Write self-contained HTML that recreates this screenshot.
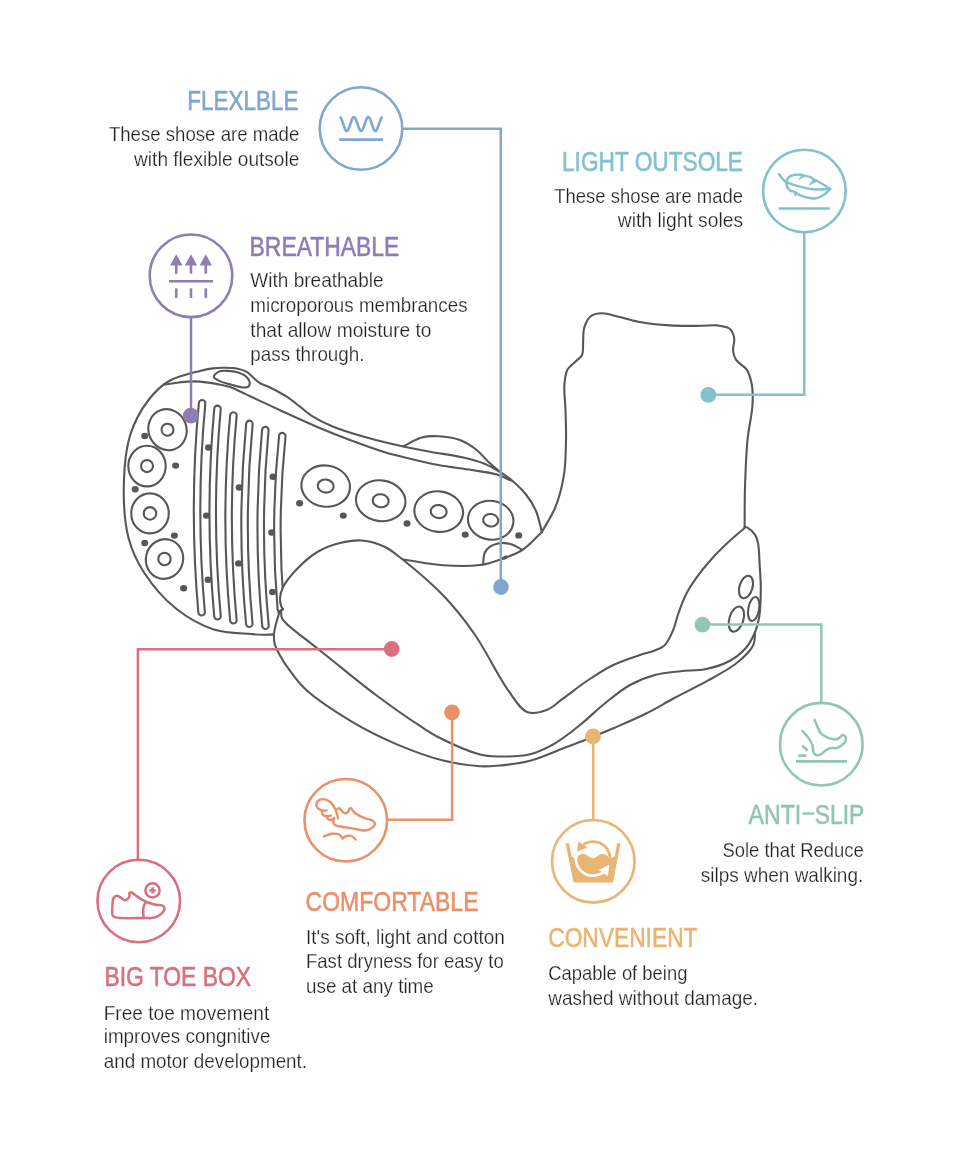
<!DOCTYPE html>
<html><head><meta charset="utf-8"><style>
html,body{margin:0;padding:0;background:#fff;width:960px;height:1158px;overflow:hidden}
svg{display:block;will-change:transform}
text{font-family:"Liberation Sans",sans-serif}
</style></head><body>
<svg width="960" height="1158" viewBox="0 0 960 1158">
<rect width="960" height="1158" fill="#fff"/>
<g id="shoe">
<path d="M202.10,403.20 Q192.25,507.75 201.60,612.30" fill="none" stroke="#575757" stroke-width="8.6" stroke-linecap="round"/><path d="M202.10,403.20 Q192.25,507.75 201.60,612.30" fill="none" stroke="#fff" stroke-width="4.4" stroke-linecap="round"/><path d="M217.50,408.90 Q207.90,512.60 217.50,616.30" fill="none" stroke="#575757" stroke-width="8.6" stroke-linecap="round"/><path d="M217.50,408.90 Q207.90,512.60 217.50,616.30" fill="none" stroke="#fff" stroke-width="4.4" stroke-linecap="round"/><path d="M233.40,415.45 Q223.80,517.88 233.40,620.30" fill="none" stroke="#575757" stroke-width="8.6" stroke-linecap="round"/><path d="M233.40,415.45 Q223.80,517.88 233.40,620.30" fill="none" stroke="#fff" stroke-width="4.4" stroke-linecap="round"/><path d="M249.40,423.90 Q239.75,523.85 249.30,623.80" fill="none" stroke="#575757" stroke-width="8.6" stroke-linecap="round"/><path d="M249.40,423.90 Q239.75,523.85 249.30,623.80" fill="none" stroke="#fff" stroke-width="4.4" stroke-linecap="round"/><path d="M265.30,430.10 Q256.01,527.95 265.50,625.80" fill="none" stroke="#575757" stroke-width="8.6" stroke-linecap="round"/><path d="M265.30,430.10 Q256.01,527.95 265.50,625.80" fill="none" stroke="#fff" stroke-width="4.4" stroke-linecap="round"/><path d="M282.30,436.10 Q273.26,522.45 280.80,608.80" fill="none" stroke="#575757" stroke-width="8.6" stroke-linecap="round"/><path d="M282.30,436.10 Q273.26,522.45 280.80,608.80" fill="none" stroke="#fff" stroke-width="4.4" stroke-linecap="round"/>
<path d="M273.90,634.40 C270.03,634.53 266.12,634.87 262.30,634.80 C258.57,634.73 256.02,634.46 251.25,634.00 C242.45,633.14 225.88,633.32 213.75,629.40 C200.83,625.22 187.57,617.79 176.25,608.75 C164.24,599.16 152.33,585.23 144.20,572.70 C137.00,561.60 132.03,551.19 128.60,538.20 C124.57,522.98 123.51,503.66 123.80,486.40 C124.10,469.09 125.63,449.67 130.40,434.50 C134.52,421.41 141.39,409.29 148.50,400.00 C154.49,392.18 160.67,386.02 168.75,381.25 C177.58,376.04 191.88,373.05 200.00,370.90 C205.05,369.56 208.31,368.92 212.50,368.40 C216.65,367.89 220.84,367.74 225.00,367.80 C229.17,367.86 233.67,367.98 237.50,368.75 C240.90,369.44 244.23,370.34 246.90,371.90 C249.35,373.33 250.95,375.66 253.10,377.50 C255.31,379.40 257.37,381.49 260.00,383.10 C262.92,384.88 266.29,385.67 270.00,387.50 C274.90,389.92 281.56,393.37 286.70,396.70 C291.50,399.81 295.72,403.43 300.00,406.70 C304.04,409.79 307.04,412.85 311.70,415.80 C317.66,419.57 325.17,423.36 333.30,426.70 C343.09,430.72 355.25,434.25 366.70,437.50 C378.56,440.87 392.03,444.02 403.30,446.50 C412.87,448.61 420.60,449.97 430.00,451.70 C440.48,453.63 453.66,455.27 463.30,457.50 C470.87,459.25 477.05,460.79 483.30,463.30 C489.24,465.68 494.99,468.94 500.00,472.00 C504.43,474.71 507.99,477.12 512.00,480.50 C516.65,484.43 521.98,489.38 526.00,494.50 C529.97,499.56 533.39,504.97 536.00,511.00 C538.78,517.41 539.93,525.00 541.90,532.00" fill="none" stroke="#575757" stroke-width="2.1" stroke-linecap="round" stroke-linejoin="round" />
<path d="M541.90,532.00 C535.43,537.97 529.48,545.35 522.50,549.90 C516.04,554.11 508.88,556.38 501.80,558.90 C494.71,561.42 488.30,563.83 480.00,565.00 C469.44,566.49 455.86,566.16 443.30,565.30 C429.91,564.39 415.77,561.30 402.00,559.30" fill="none" stroke="#575757" stroke-width="2.1" stroke-linecap="round" stroke-linejoin="round" />
<path d="M164.00,384.50 C171.83,383.53 180.88,382.01 187.50,381.60 C192.31,381.30 195.43,381.26 200.00,381.60 C205.63,382.02 213.15,383.29 218.75,384.40 C223.36,385.31 227.01,386.01 231.25,387.50 C235.94,389.15 239.69,391.36 245.60,394.10 C255.19,398.55 271.09,406.11 283.30,411.70 C294.75,416.94 305.52,421.96 316.70,426.70 C327.76,431.39 338.86,435.82 350.00,440.00 C361.06,444.15 373.33,448.62 383.30,451.70 C391.25,454.16 396.97,455.52 405.00,457.50 C414.89,459.94 427.15,462.91 438.30,465.00 C449.39,467.08 461.35,468.28 471.70,470.00 C480.73,471.50 489.90,472.49 497.00,474.60 C502.46,476.22 506.33,478.53 511.00,480.50" fill="none" stroke="#575757" stroke-width="2.1" stroke-linecap="round" stroke-linejoin="round" />
<path d="M403.30,446.30 C409.43,443.37 415.57,439.14 421.70,437.50 C427.24,436.01 432.42,435.92 438.30,436.20 C445.07,436.52 453.44,437.56 460.00,440.00 C466.16,442.30 471.84,446.19 476.70,450.00 C481.17,453.50 484.35,458.03 488.30,461.70 C492.12,465.25 496.10,468.37 500.00,471.70" fill="none" stroke="#575757" stroke-width="2.1" stroke-linecap="round" stroke-linejoin="round" />
<path d="M483.10,563.40 C483.60,559.93 483.30,555.90 484.60,553.00 C485.76,550.41 487.78,548.16 490.00,546.60 C492.24,545.02 495.49,544.16 498.00,543.60 C500.11,543.13 501.86,543.00 504.00,543.10 C506.48,543.21 509.23,543.56 512.00,544.50 C515.32,545.62 518.93,548.10 522.40,549.90" fill="none" stroke="#575757" stroke-width="2.1" stroke-linecap="round" stroke-linejoin="round" />
<path d="M213.75,376.90 C213.61,375.36 216.58,372.64 218.75,371.60 C221.22,370.43 224.98,370.80 228.10,370.90 C231.23,371.00 234.60,371.36 237.50,372.20 C240.20,372.98 242.98,374.01 245.00,375.60 C246.88,377.08 248.87,379.31 249.40,381.25 C249.84,382.88 249.68,385.21 248.75,386.25 C247.81,387.30 245.80,387.47 243.75,387.50 C240.53,387.54 235.39,385.84 231.25,384.70 C227.06,383.55 221.88,382.22 218.75,380.60 C216.60,379.49 213.88,378.32 213.75,376.90Z" fill="none" stroke="#575757" stroke-width="2.1" stroke-linecap="round" stroke-linejoin="round" />
<path d="M541.90,532.00 C546.50,523.47 552.07,515.63 555.70,506.40 C559.56,496.59 562.28,485.51 564.00,474.60 C565.77,463.40 565.77,451.13 566.00,440.00 C566.21,429.65 565.79,419.54 565.50,410.00 C565.24,401.29 563.83,392.30 564.40,385.00 C564.85,379.22 565.31,373.71 567.50,369.60 C569.40,366.05 573.22,363.83 575.80,361.25 C578.04,359.01 580.83,357.73 582.10,355.00 C583.61,351.75 582.76,346.83 583.10,342.50 C583.46,337.82 582.89,332.34 584.20,327.90 C585.43,323.72 587.35,318.93 590.40,316.50 C593.33,314.17 597.76,313.44 601.90,313.30 C606.69,313.13 611.94,315.24 617.50,316.50 C623.95,317.97 630.61,320.29 638.30,321.70 C647.62,323.41 659.16,324.72 669.60,325.40 C679.99,326.08 692.01,325.85 700.80,325.80 C707.23,325.76 712.38,324.74 717.50,325.40 C722.02,325.98 727.20,326.58 730.00,329.00 C732.48,331.14 733.62,334.89 734.20,338.30 C734.84,342.08 732.65,346.97 733.10,350.80 C733.50,354.20 734.34,357.30 736.25,360.20 C738.52,363.66 744.12,365.68 746.70,369.60 C749.48,373.82 750.90,379.45 751.90,385.00 C753.01,391.16 752.92,397.43 752.50,405.00 C751.94,415.07 748.73,427.41 747.50,440.00 C746.08,454.60 745.48,472.29 745.00,487.50 C744.56,501.53 744.73,514.50 744.60,528.00" fill="none" stroke="#575757" stroke-width="2.1" stroke-linecap="round" stroke-linejoin="round" />
<path d="M283.00,609.30 C282.43,608.30 281.76,607.59 281.30,606.30 C280.61,604.35 279.86,601.32 280.00,598.50 C280.16,595.09 281.08,591.24 283.00,587.30 C285.62,581.92 290.77,575.54 296.00,570.00 C301.94,563.71 309.69,556.56 317.30,552.00 C324.42,547.74 332.36,544.91 340.00,543.00 C347.27,541.18 354.64,539.90 362.00,540.50 C369.64,541.12 378.16,543.74 385.00,547.00 C391.38,550.05 395.27,553.67 402.00,559.00 C412.95,567.68 430.98,582.72 443.30,595.60 C454.96,607.79 464.27,619.53 474.40,634.00 C486.17,650.81 498.51,677.21 508.75,691.20 C515.33,700.20 520.01,709.14 527.00,711.90 C532.92,714.24 540.68,712.23 546.70,710.00 C552.80,707.74 557.22,702.66 563.30,698.30 C570.81,692.91 579.84,685.62 588.30,680.00 C596.51,674.55 604.63,669.18 613.30,665.00 C621.87,660.87 632.57,657.52 640.00,655.00 C645.23,653.23 649.30,652.56 653.50,650.90 C657.40,649.36 661.31,648.42 664.40,645.50 C668.14,641.97 670.85,635.42 673.20,630.00 C675.55,624.58 676.43,618.78 678.50,613.00 C680.72,606.80 683.13,600.00 686.20,594.00 C689.21,588.11 692.70,582.87 696.70,577.30 C701.07,571.21 706.30,564.88 711.60,559.00 C716.98,553.04 723.05,547.13 728.75,541.80 C734.05,536.85 739.32,532.60 744.60,528.00 L744.60,527.00 C745.40,527.13 746.05,526.93 747.00,527.40 C749.02,528.39 753.25,532.11 755.10,534.90 C756.72,537.35 757.27,539.48 758.00,542.90 C759.20,548.51 759.23,558.16 759.70,565.80 C760.17,573.44 760.83,580.70 760.80,588.75 C760.76,597.68 760.49,609.12 759.20,617.00 C758.25,622.84 756.47,627.00 755.10,632.00 L755.10,632.00 C754.63,636.07 754.99,640.68 753.70,644.20 C752.55,647.33 750.73,649.48 748.30,652.30 C744.98,656.15 740.32,660.42 734.80,664.50 C727.53,669.88 717.32,675.33 707.70,680.70 C697.14,686.60 684.52,692.61 673.90,698.30 C664.31,703.44 656.34,708.49 646.70,713.30 C636.24,718.52 624.01,723.68 613.30,728.30 C603.51,732.52 593.83,736.49 585.00,740.00 C577.31,743.06 571.31,745.26 563.30,748.30 C553.39,752.06 541.20,757.89 530.00,760.80 C519.20,763.60 506.50,764.85 497.30,765.70 C490.64,766.31 486.82,766.71 480.00,766.30 C470.02,765.70 456.06,763.79 443.30,760.60 C428.72,756.95 412.56,750.98 397.50,744.60 C382.02,738.04 366.66,730.51 351.70,721.60 C336.07,712.29 316.87,699.77 305.80,689.60 C298.21,682.63 293.63,675.74 289.00,669.40 C285.22,664.24 282.09,659.26 279.60,654.70 C277.58,651.01 275.72,647.84 274.80,644.30 C273.92,640.94 273.79,637.43 274.00,634.00 C274.21,630.53 275.22,627.18 276.10,623.60 C277.06,619.70 278.43,615.53 279.60,611.50Z" fill="#fff" stroke="none"/>
<path d="M283.00,609.30 C282.43,608.30 281.76,607.59 281.30,606.30 C280.61,604.35 279.86,601.32 280.00,598.50 C280.16,595.09 281.08,591.24 283.00,587.30 C285.62,581.92 290.77,575.54 296.00,570.00 C301.94,563.71 309.69,556.56 317.30,552.00 C324.42,547.74 332.36,544.91 340.00,543.00 C347.27,541.18 354.64,539.90 362.00,540.50 C369.64,541.12 378.16,543.74 385.00,547.00 C391.38,550.05 395.27,553.67 402.00,559.00 C412.95,567.68 430.98,582.72 443.30,595.60 C454.96,607.79 464.27,619.53 474.40,634.00 C486.17,650.81 498.51,677.21 508.75,691.20 C515.33,700.20 520.01,709.14 527.00,711.90 C532.92,714.24 540.68,712.23 546.70,710.00 C552.80,707.74 557.22,702.66 563.30,698.30 C570.81,692.91 579.84,685.62 588.30,680.00 C596.51,674.55 604.63,669.18 613.30,665.00 C621.87,660.87 632.57,657.52 640.00,655.00 C645.23,653.23 649.30,652.56 653.50,650.90 C657.40,649.36 661.31,648.42 664.40,645.50 C668.14,641.97 670.85,635.42 673.20,630.00 C675.55,624.58 676.43,618.78 678.50,613.00 C680.72,606.80 683.13,600.00 686.20,594.00 C689.21,588.11 692.70,582.87 696.70,577.30 C701.07,571.21 706.30,564.88 711.60,559.00 C716.98,553.04 723.05,547.13 728.75,541.80 C734.05,536.85 739.32,532.60 744.60,528.00" fill="none" stroke="#575757" stroke-width="2.1" stroke-linecap="round" stroke-linejoin="round" />
<path d="M280.90,610.60 C281.30,613.20 280.99,616.03 282.10,618.40 C283.30,620.96 285.51,622.74 288.20,625.30 C292.38,629.27 299.30,634.18 305.50,639.10 C312.67,644.80 319.70,650.32 328.75,657.50 C341.47,667.60 359.15,682.43 374.60,694.00 C389.70,705.31 408.21,718.26 420.40,726.20 C428.19,731.28 432.14,734.04 440.00,738.00 C450.82,743.45 469.26,751.72 480.00,754.50 C486.81,756.26 490.62,756.35 497.30,756.50 C506.47,756.71 520.02,756.65 530.00,754.20 C539.10,751.97 546.92,747.94 555.00,743.30 C563.62,738.35 571.80,731.54 580.00,725.00 C588.48,718.24 596.52,710.06 605.00,703.30 C613.20,696.76 621.35,689.79 630.00,685.00 C638.06,680.53 646.48,677.30 655.00,675.00 C663.35,672.74 672.15,672.17 680.60,671.20 C688.82,670.25 697.08,670.78 705.00,669.20 C712.87,667.63 721.13,665.42 728.00,661.80 C734.60,658.33 740.99,653.43 745.60,648.20 C749.83,643.39 752.80,637.45 755.10,632.00 C757.19,627.04 758.25,622.84 759.20,617.00 C760.49,609.12 760.76,597.68 760.80,588.75 C760.83,580.70 760.17,573.44 759.70,565.80 C759.23,558.16 759.20,548.51 758.00,542.90 C757.27,539.48 756.72,537.35 755.10,534.90 C753.25,532.11 749.02,528.39 747.00,527.40 C746.05,526.93 745.40,527.13 744.60,527.00" fill="none" stroke="#575757" stroke-width="2.1" stroke-linecap="round" stroke-linejoin="round" />
<path d="M279.60,611.50 C278.43,615.53 277.06,619.70 276.10,623.60 C275.22,627.18 274.21,630.53 274.00,634.00 C273.79,637.43 273.92,640.94 274.80,644.30 C275.72,647.84 277.58,651.01 279.60,654.70 C282.09,659.26 285.22,664.24 289.00,669.40 C293.63,675.74 298.21,682.63 305.80,689.60 C316.87,699.77 336.07,712.29 351.70,721.60 C366.66,730.51 382.02,738.04 397.50,744.60 C412.56,750.98 428.72,756.95 443.30,760.60 C456.06,763.79 470.02,765.70 480.00,766.30 C486.82,766.71 490.64,766.31 497.30,765.70 C506.50,764.85 519.20,763.60 530.00,760.80 C541.20,757.89 553.39,752.06 563.30,748.30 C571.31,745.26 577.31,743.06 585.00,740.00 C593.83,736.49 603.51,732.52 613.30,728.30 C624.01,723.68 636.24,718.52 646.70,713.30 C656.34,708.49 664.31,703.44 673.90,698.30 C684.52,692.61 697.14,686.60 707.70,680.70 C717.32,675.33 727.53,669.88 734.80,664.50 C740.32,660.42 744.98,656.15 748.30,652.30 C750.73,649.48 752.55,647.33 753.70,644.20 C754.99,640.68 754.63,636.07 755.10,632.00" fill="none" stroke="#575757" stroke-width="2.1" stroke-linecap="round" stroke-linejoin="round" />
<path d="M283.00,609.30 C282.13,609.73 281.20,610.09 280.40,610.60 C279.63,611.09 279.00,611.73 278.30,612.30" fill="none" stroke="#575757" stroke-width="2.1" stroke-linecap="round" stroke-linejoin="round" />
<path d="M778.80,174.10 C781.07,176.60 782.61,179.60 785.60,181.60 C789.25,184.04 795.12,185.40 799.80,186.70 C804.18,187.92 808.13,188.88 812.80,189.30 C818.15,189.78 824.40,189.10 830.20,189.00" fill="none" stroke="#82c2ce" stroke-width="2.4" stroke-linecap="round" stroke-linejoin="round" />
<path d="M786.00,182.00 C786.97,180.33 787.45,178.19 788.90,177.00 C790.47,175.71 793.08,175.17 795.30,174.80 C797.57,174.42 800.03,174.80 802.40,174.80" fill="none" stroke="#82c2ce" stroke-width="2.4" stroke-linecap="round" stroke-linejoin="round" />
<path d="M804.40,175.75 C806.33,176.17 808.45,176.26 810.20,177.00 C811.87,177.71 813.20,179.00 814.70,180.00" fill="none" stroke="#82c2ce" stroke-width="2.4" stroke-linecap="round" stroke-linejoin="round" />
<path d="M816.00,180.30 C818.17,181.57 820.26,182.73 822.50,184.10 C824.97,185.61 827.63,187.37 830.20,189.00" fill="none" stroke="#82c2ce" stroke-width="2.4" stroke-linecap="round" stroke-linejoin="round" />
<path d="M830.20,189.00 C828.27,190.83 826.66,192.97 824.40,194.50 C821.97,196.15 818.87,197.89 816.00,198.40 C813.26,198.89 810.32,198.26 807.60,197.70 C804.92,197.15 801.93,196.06 799.80,195.10 C798.20,194.38 797.13,193.57 795.80,192.80" fill="none" stroke="#82c2ce" stroke-width="2.4" stroke-linecap="round" stroke-linejoin="round" />
<path d="M793.60,191.60 C792.67,191.37 791.71,191.42 790.80,190.90 C789.62,190.22 788.20,188.82 787.40,187.40 C786.55,185.89 786.47,183.80 786.00,182.00" fill="none" stroke="#82c2ce" stroke-width="2.4" stroke-linecap="round" stroke-linejoin="round" />
<path d="M814.50,719.90 C815.63,722.47 816.78,725.24 817.90,727.60 C818.88,729.66 819.54,731.83 820.80,733.30 C821.91,734.60 823.20,735.32 824.80,736.20 C826.83,737.31 829.78,738.76 832.20,739.10 C834.37,739.41 836.81,739.25 838.60,738.50 C840.22,737.82 841.33,735.16 842.60,735.10 C843.68,735.05 845.22,736.28 845.70,737.30 C846.20,738.36 846.00,740.10 845.40,741.40 C844.65,743.04 842.43,744.84 840.80,746.00 C839.37,747.02 837.94,747.85 836.30,748.20 C834.53,748.58 832.33,747.61 830.50,748.00 C828.69,748.39 826.94,749.48 825.40,750.50 C823.91,751.49 822.93,753.23 821.40,754.00 C819.87,754.77 817.58,755.57 816.20,755.10 C814.94,754.67 813.93,753.12 813.30,751.70 C812.55,750.01 813.13,747.45 812.50,745.40 C811.84,743.24 810.72,741.25 809.30,739.10 C807.56,736.47 804.77,733.70 802.50,731.00" fill="none" stroke="#91c6b1" stroke-width="2.5" stroke-linecap="round" stroke-linejoin="round" />
<path d="M112.70,915.50 C111.69,913.67 112.23,909.11 112.40,906.10 C112.56,903.29 112.53,899.73 113.60,898.00 C114.33,896.81 115.62,895.92 116.75,895.80 C117.91,895.68 119.26,896.72 120.50,897.40 C121.87,898.15 123.27,900.09 124.60,900.20 C125.76,900.29 127.16,899.38 128.00,898.60 C128.78,897.88 129.42,896.74 129.60,895.80 C129.76,894.97 128.93,893.87 129.25,893.30 C129.56,892.75 130.58,892.30 131.40,892.40 C132.70,892.55 134.40,894.64 136.10,895.80 C138.03,897.13 140.26,898.73 142.40,899.90 C144.43,901.01 146.36,901.90 148.60,902.70 C151.10,903.59 154.26,904.44 156.75,904.90 C158.79,905.28 161.06,904.72 162.40,905.50 C163.50,906.14 164.50,907.51 164.60,908.60 C164.70,909.68 163.85,910.91 163.00,912.00 C161.88,913.43 159.87,915.10 158.00,916.10 C156.12,917.10 153.86,917.69 151.75,918.00 C149.69,918.31 148.36,918.03 145.50,918.00 C139.23,917.94 120.09,918.86 115.50,917.40 C113.96,916.91 113.31,916.60 112.70,915.50Z" fill="none" stroke="#d8707d" stroke-width="2.5" stroke-linecap="round" stroke-linejoin="round" />
<path d="M145.50,902.40 C144.87,903.85 143.97,905.17 143.60,906.75 C143.19,908.48 143.30,910.52 143.30,912.40 C143.30,914.27 143.50,916.13 143.60,918.00" fill="none" stroke="#d8707d" stroke-width="2.5" stroke-linecap="round" stroke-linejoin="round" />
<path d="M338.10,818.10 C337.57,816.23 337.09,814.23 336.50,812.50 C335.98,810.96 335.62,809.71 334.80,808.20 C333.75,806.26 332.33,803.51 330.40,802.00 C328.44,800.46 325.38,799.05 323.10,799.10 C321.05,799.14 318.29,800.29 317.30,801.70 C316.41,802.96 316.26,805.38 316.90,806.80 C317.59,808.33 320.01,809.84 321.70,810.40 C323.20,810.90 324.83,810.40 326.40,810.40" fill="none" stroke="#e8926a" stroke-width="2.4" stroke-linecap="round" stroke-linejoin="round" />
<path d="M321.70,811.00 C322.07,812.27 321.98,813.92 322.80,814.80 C323.65,815.72 325.45,816.19 326.80,816.30 C328.12,816.41 329.47,815.77 330.80,815.50" fill="none" stroke="#e8926a" stroke-width="2.4" stroke-linecap="round" stroke-linejoin="round" />
<path d="M326.80,816.60 C327.27,817.47 327.44,818.64 328.20,819.20 C329.06,819.83 330.87,820.16 331.90,819.90 C332.79,819.67 333.37,818.70 334.10,818.10" fill="none" stroke="#e8926a" stroke-width="2.4" stroke-linecap="round" stroke-linejoin="round" />
<path d="M334.10,818.10 C333.83,819.43 333.13,820.90 333.30,822.10 C333.45,823.17 333.91,824.29 334.80,825.00 C336.01,825.97 338.26,826.00 340.60,826.50 C344.10,827.24 349.54,828.01 353.80,828.70 C357.79,829.34 362.12,830.86 365.40,830.50 C367.95,830.22 370.38,829.20 372.00,827.90 C373.39,826.79 374.98,824.91 374.90,823.60 C374.82,822.39 373.24,821.09 372.00,820.30 C370.63,819.43 368.74,819.43 366.90,818.80 C364.67,818.03 361.83,817.09 359.60,815.90 C357.49,814.77 355.34,813.32 353.80,811.90 C352.53,810.73 351.70,808.52 350.80,808.20 C350.30,808.03 349.74,808.17 349.40,808.50 C348.92,808.96 349.28,810.45 348.70,811.20 C347.99,812.13 346.19,813.40 345.00,813.30 C343.76,813.20 342.43,811.33 341.40,810.40 C340.55,809.64 339.98,808.33 339.20,808.20 C338.50,808.09 337.73,808.93 337.00,809.30" fill="none" stroke="#e8926a" stroke-width="2.4" stroke-linecap="round" stroke-linejoin="round" />
<path d="M323.90,836.30 C326.57,835.47 329.27,834.07 331.90,833.80 C334.36,833.54 337.37,833.54 339.20,834.50 C340.72,835.30 341.40,837.10 342.50,838.40" fill="none" stroke="#e8926a" stroke-width="2.4" stroke-linecap="round" stroke-linejoin="round" />
<path d="M342.50,838.40 C343.83,837.60 345.02,836.41 346.50,836.00 C348.04,835.57 350.10,835.42 351.60,836.00 C353.14,836.59 354.27,838.40 355.60,839.60" fill="none" stroke="#e8926a" stroke-width="2.4" stroke-linecap="round" stroke-linejoin="round" />
<ellipse cx="167.5" cy="429.7" rx="19" ry="20.7" transform="rotate(-20 167.5 429.7)" fill="none" stroke="#575757" stroke-width="2.1"/><ellipse cx="167.5" cy="429.7" rx="6" ry="6" transform="rotate(-20 167.5 429.7)" fill="none" stroke="#575757" stroke-width="2.1"/><ellipse cx="147" cy="466.1" rx="18.7" ry="20.3" transform="rotate(0 147 466.1)" fill="none" stroke="#575757" stroke-width="2.1"/><ellipse cx="147" cy="466.1" rx="6" ry="6" transform="rotate(0 147 466.1)" fill="none" stroke="#575757" stroke-width="2.1"/><ellipse cx="150" cy="513.4" rx="18.75" ry="20" transform="rotate(0 150 513.4)" fill="none" stroke="#575757" stroke-width="2.1"/><ellipse cx="150" cy="513.4" rx="6.3" ry="6.3" transform="rotate(0 150 513.4)" fill="none" stroke="#575757" stroke-width="2.1"/><ellipse cx="164.5" cy="559" rx="18.6" ry="19.9" transform="rotate(15 164.5 559)" fill="none" stroke="#575757" stroke-width="2.1"/><ellipse cx="164.5" cy="559" rx="6.2" ry="6.2" transform="rotate(15 164.5 559)" fill="none" stroke="#575757" stroke-width="2.1"/><ellipse cx="325.7" cy="486.1" rx="24.4" ry="20.6" transform="rotate(8 325.7 486.1)" fill="none" stroke="#575757" stroke-width="2.1"/><ellipse cx="325.7" cy="486.1" rx="8" ry="6.5" transform="rotate(8 325.7 486.1)" fill="none" stroke="#575757" stroke-width="2.1"/><ellipse cx="380.7" cy="500.75" rx="24.8" ry="20.3" transform="rotate(8 380.7 500.75)" fill="none" stroke="#575757" stroke-width="2.1"/><ellipse cx="380.7" cy="500.75" rx="8" ry="6.5" transform="rotate(8 380.7 500.75)" fill="none" stroke="#575757" stroke-width="2.1"/><ellipse cx="438.7" cy="511.6" rx="24.4" ry="20.2" transform="rotate(8 438.7 511.6)" fill="none" stroke="#575757" stroke-width="2.1"/><ellipse cx="438.7" cy="511.6" rx="8" ry="6.5" transform="rotate(8 438.7 511.6)" fill="none" stroke="#575757" stroke-width="2.1"/><ellipse cx="490.7" cy="520.2" rx="22.8" ry="19.4" transform="rotate(8 490.7 520.2)" fill="none" stroke="#575757" stroke-width="2.1"/><ellipse cx="490.7" cy="520.2" rx="7.6" ry="6.2" transform="rotate(8 490.7 520.2)" fill="none" stroke="#575757" stroke-width="2.1"/><ellipse cx="746" cy="587" rx="6.5" ry="11.6" transform="rotate(17 746 587)" fill="none" stroke="#575757" stroke-width="2.1"/><ellipse cx="753.7" cy="609" rx="5.4" ry="12.2" transform="rotate(10 753.7 609)" fill="none" stroke="#575757" stroke-width="2.1"/><ellipse cx="736.4" cy="619.1" rx="7" ry="13" transform="rotate(17 736.4 619.1)" fill="none" stroke="#575757" stroke-width="2.1"/>
<ellipse cx="505" cy="557.6" rx="3.4" ry="1.7" transform="rotate(-22 505 557.6)" fill="#575757"/><ellipse cx="144.7" cy="436" rx="3.5" ry="3.2" fill="#575757"/><ellipse cx="175.6" cy="465.6" rx="3.5" ry="3.2" fill="#575757"/><ellipse cx="135.2" cy="489.3" rx="3.5" ry="3.2" fill="#575757"/><ellipse cx="208.5" cy="447.5" rx="3.5" ry="3.2" fill="#575757"/><ellipse cx="206.5" cy="515.6" rx="3.5" ry="3.2" fill="#575757"/><ellipse cx="239.2" cy="487.5" rx="3.5" ry="3.2" fill="#575757"/><ellipse cx="273" cy="476.7" rx="3.5" ry="3.2" fill="#575757"/><ellipse cx="271.7" cy="532.5" rx="3.5" ry="3.2" fill="#575757"/><ellipse cx="174.4" cy="535.6" rx="3.5" ry="3.2" fill="#575757"/><ellipse cx="144.7" cy="543" rx="3.5" ry="3.2" fill="#575757"/><ellipse cx="183.6" cy="588.3" rx="3.5" ry="3.2" fill="#575757"/><ellipse cx="208.1" cy="579.7" rx="3.5" ry="3.2" fill="#575757"/><ellipse cx="238.5" cy="563.4" rx="3.5" ry="3.2" fill="#575757"/><ellipse cx="272.5" cy="592" rx="3.5" ry="3.2" fill="#575757"/><ellipse cx="299.6" cy="503.3" rx="3.5" ry="3.2" fill="#575757"/><ellipse cx="343.3" cy="515.6" rx="3.5" ry="3.2" fill="#575757"/><ellipse cx="407" cy="523.5" rx="3.5" ry="3.2" fill="#575757"/><ellipse cx="465.2" cy="534.6" rx="3.5" ry="3.2" fill="#575757"/><ellipse cx="518.7" cy="535.4" rx="3.5" ry="3.2" fill="#575757"/>
</g>
<g id="conn"><circle cx="361" cy="128.5" r="41.3" fill="none" stroke="#80a7d1" stroke-width="2.6"/><polyline points="402.3,128.7 500.8,128.7 500.8,587" fill="none" stroke="#80a7d1" stroke-width="2.5"/><circle cx="501" cy="587" r="7.9" fill="#80a7d1"/><circle cx="804.4" cy="191" r="41.3" fill="none" stroke="#82c2ce" stroke-width="2.6"/><polyline points="804.3,232.3 804.3,394.8 708,394.8" fill="none" stroke="#82c2ce" stroke-width="2.5"/><circle cx="708.3" cy="394.9" r="7.9" fill="#82c2ce"/><circle cx="191" cy="275.8" r="41.3" fill="none" stroke="#8f7db5" stroke-width="2.6"/><polyline points="191,317 191,415.4" fill="none" stroke="#8f7db5" stroke-width="2.5"/><circle cx="190.9" cy="415.7" r="7.9" fill="#8f7db5"/><circle cx="821.3" cy="744.2" r="41.3" fill="none" stroke="#91c6b1" stroke-width="2.6"/><polyline points="821.4,702.9 821.4,624.6 702.5,624.6" fill="none" stroke="#91c6b1" stroke-width="2.5"/><circle cx="702.5" cy="624.6" r="7.9" fill="#91c6b1"/><circle cx="593.25" cy="861.3" r="41.3" fill="none" stroke="#e9b572" stroke-width="2.6"/><polyline points="593.2,820 593.2,736.4" fill="none" stroke="#e9b572" stroke-width="2.5"/><circle cx="593" cy="736.4" r="7.9" fill="#e9b572"/><circle cx="345.75" cy="820.25" r="41.3" fill="none" stroke="#e8926a" stroke-width="2.6"/><polyline points="387,819.75 452.1,819.75 452.1,712.3" fill="none" stroke="#e8926a" stroke-width="2.5"/><circle cx="452" cy="712.3" r="7.9" fill="#e8926a"/><circle cx="138.75" cy="901" r="41.3" fill="none" stroke="#d8707d" stroke-width="2.6"/><polyline points="137.9,859.7 137.9,649.2 391.75,649.2" fill="none" stroke="#d8707d" stroke-width="2.5"/><circle cx="391.75" cy="649" r="7.9" fill="#d8707d"/></g>
<g id="icons"><polyline points="339.60,117.00 339.96,117.09 340.32,117.34 340.68,117.76 341.03,118.34 341.39,119.05 341.75,119.89 342.11,120.82 342.47,121.84 342.83,122.90 343.18,124.00 343.54,125.10 343.90,126.16 344.26,127.18 344.62,128.11 344.98,128.95 345.33,129.66 345.69,130.24 346.05,130.66 346.41,130.91 346.77,131.00 347.12,130.91 347.48,130.66 347.84,130.24 348.20,129.66 348.56,128.95 348.92,128.11 349.28,127.18 349.63,126.16 349.99,125.10 350.35,124.00 350.71,122.90 351.07,121.84 351.43,120.82 351.78,119.89 352.14,119.05 352.50,118.34 352.86,117.76 353.22,117.34 353.58,117.09 353.93,117.00 354.29,117.09 354.65,117.34 355.01,117.76 355.37,118.34 355.73,119.05 356.08,119.89 356.44,120.82 356.80,121.84 357.16,122.90 357.52,124.00 357.88,125.10 358.23,126.16 358.59,127.18 358.95,128.11 359.31,128.95 359.67,129.66 360.03,130.24 360.38,130.66 360.74,130.91 361.10,131.00 361.46,130.91 361.82,130.66 362.18,130.24 362.53,129.66 362.89,128.95 363.25,128.11 363.61,127.18 363.97,126.16 364.33,125.10 364.68,124.00 365.04,122.90 365.40,121.84 365.76,120.82 366.12,119.89 366.48,119.05 366.83,118.34 367.19,117.76 367.55,117.34 367.91,117.09 368.27,117.00 368.62,117.09 368.98,117.34 369.34,117.76 369.70,118.34 370.06,119.05 370.42,119.89 370.78,120.82 371.13,121.84 371.49,122.90 371.85,124.00 372.21,125.10 372.57,126.16 372.93,127.18 373.28,128.11 373.64,128.95 374.00,129.66 374.36,130.24 374.72,130.66 375.08,130.91 375.43,131.00 375.79,130.91 376.15,130.66 376.51,130.24 376.87,129.66 377.23,128.95 377.58,128.11 377.94,127.18 378.30,126.16 378.66,125.10 379.02,124.00 379.38,122.90 379.73,121.84 380.09,120.82 380.45,119.89 380.81,119.05 381.17,118.34 381.53,117.76 381.88,117.34 382.24,117.09 382.60,117.00" fill="none" stroke="#80a7d1" stroke-width="2.6" stroke-linecap="butt" stroke-linejoin="round"/><line x1="339.2" y1="139.6" x2="383.1" y2="139.6" stroke="#80a7d1" stroke-width="2.6"/><path d="M170.05,265.4 L176.25,254.2 L182.45,265.4Z" fill="#8f7db5"/><line x1="176.25" y1="264" x2="176.25" y2="273.75" stroke="#8f7db5" stroke-width="2.6"/><line x1="176.25" y1="288.3" x2="176.25" y2="297.9" stroke="#8f7db5" stroke-width="2.6"/><path d="M184.8,265.4 L191,254.2 L197.2,265.4Z" fill="#8f7db5"/><line x1="191" y1="264" x2="191" y2="273.75" stroke="#8f7db5" stroke-width="2.6"/><line x1="191" y1="288.3" x2="191" y2="297.9" stroke="#8f7db5" stroke-width="2.6"/><path d="M199.60000000000002,265.4 L205.8,254.2 L212.0,265.4Z" fill="#8f7db5"/><line x1="205.8" y1="264" x2="205.8" y2="273.75" stroke="#8f7db5" stroke-width="2.6"/><line x1="205.8" y1="288.3" x2="205.8" y2="297.9" stroke="#8f7db5" stroke-width="2.6"/><line x1="169" y1="281.25" x2="213.1" y2="281.25" stroke="#8f7db5" stroke-width="2.6"/><line x1="778.75" y1="208.5" x2="829.75" y2="208.5" stroke="#82c2ce" stroke-width="2.6"/><polygon points="798.9,179.6 802.4,174.3 805,176.1" fill="#82c2ce" stroke="#82c2ce" stroke-width="0.8" stroke-linejoin="round"/><polygon points="808.9,185.1 814,179 817.2,180.9" fill="#82c2ce" stroke="#82c2ce" stroke-width="0.8" stroke-linejoin="round"/><polygon points="793.2,191 796.5,192 795.6,196.3" fill="#82c2ce" stroke="#82c2ce" stroke-width="0.8" stroke-linejoin="round"/><line x1="802.1" y1="745.4" x2="807.6" y2="750.7" stroke="#91c6b1" stroke-width="2.6"/><line x1="798.1" y1="755.6" x2="806.5" y2="755.6" stroke="#91c6b1" stroke-width="2.6"/><line x1="796" y1="761.35" x2="847.1" y2="761.35" stroke="#91c6b1" stroke-width="2.6"/><circle cx="152.5" cy="890.4" r="7.1" fill="none" stroke="#d8707d" stroke-width="2.5"/><path d="M149.2,890.4 H155.8 M152.5,887.2 V893.6" stroke="#d8707d" stroke-width="2.4"/><polygon points="565.5,843.2 568.9,843.2 571.75,856.6 574.5,858.6 610.5,858.6 614.9,856 617,843.2 620.5,843.2 613,882.6 573.6,882.6" fill="#e9b572"/><path d="M577.4,858.6 C577.5,855.2 580.5,854 583.6,854.1 C587.5,854.2 590,858.5 593,858.5 C596,858.5 598.5,854.2 601.75,854.1 C605,854 608.5,855.5 608.6,858.6 L608.6,861 L577.4,861Z" fill="#e9b572"/><path d="M575.9,857 A17.1,17.1 0 0 0 607.8,867.05" fill="none" stroke="#fff" stroke-width="2.6"/><polygon points="598.8,870 609.4,864.6 607.9,876" fill="#fff"/><path d="M581.5,846 A17.1,17.1 0 0 1 610.1,859" fill="none" stroke="#e9b572" stroke-width="2.8"/><polygon points="578.3,841.3 577,851.8 587.3,847.6" fill="#e9b572"/></g>
<g id="text"><text x="187.2" y="109.5" font-size="27.6" fill="#80a7d1" stroke="#80a7d1" stroke-width="0.6" text-anchor="start" textLength="111.3" lengthAdjust="spacingAndGlyphs">FLEXLBLE</text><text x="108.89999999999999" y="141.35" font-size="21" fill="#222222" stroke="#fff" stroke-width="0.25" text-anchor="start" textLength="190.39999999999998" lengthAdjust="spacingAndGlyphs">These shose are made</text><text x="134.1" y="165.8" font-size="21" fill="#222222" stroke="#fff" stroke-width="0.25" text-anchor="start" textLength="165.2" lengthAdjust="spacingAndGlyphs">with flexible outsole</text><text x="562.0" y="171" font-size="27.6" fill="#82c2ce" stroke="#82c2ce" stroke-width="0.6" text-anchor="start" textLength="181.0" lengthAdjust="spacingAndGlyphs">LIGHT OUTSOLE</text><text x="554.3000000000001" y="203.3" font-size="21" fill="#222222" stroke="#fff" stroke-width="0.25" text-anchor="start" textLength="188.7" lengthAdjust="spacingAndGlyphs">These shose are made</text><text x="617.85" y="227.3" font-size="21" fill="#222222" stroke="#fff" stroke-width="0.25" text-anchor="start" textLength="125.2" lengthAdjust="spacingAndGlyphs">with light soles</text><text x="249.6" y="255.5" font-size="27.6" fill="#8f7db5" stroke="#8f7db5" stroke-width="0.6" text-anchor="start" textLength="149.7" lengthAdjust="spacingAndGlyphs">BREATHABLE</text><text x="250.35" y="287" font-size="21" fill="#222222" stroke="#fff" stroke-width="0.25" text-anchor="start" textLength="133.2" lengthAdjust="spacingAndGlyphs">With breathable</text><text x="250.35" y="312" font-size="21" fill="#222222" stroke="#fff" stroke-width="0.25" text-anchor="start" textLength="217.2" lengthAdjust="spacingAndGlyphs">microporous membrances</text><text x="250.35" y="337" font-size="21" fill="#222222" stroke="#fff" stroke-width="0.25" text-anchor="start" textLength="181.2" lengthAdjust="spacingAndGlyphs">that allow moisture to</text><text x="250.35" y="361.25" font-size="21" fill="#222222" stroke="#fff" stroke-width="0.25" text-anchor="start" textLength="114.2" lengthAdjust="spacingAndGlyphs">pass through.</text><text x="748.5" y="823.5" font-size="27.6" fill="#91c6b1" stroke="#91c6b1" stroke-width="0.6" text-anchor="start" textLength="52.800000000000004" lengthAdjust="spacingAndGlyphs">ANTI</text><text x="814.7" y="823.5" font-size="27.6" fill="#91c6b1" stroke="#91c6b1" stroke-width="0.6" text-anchor="start" textLength="49.6" lengthAdjust="spacingAndGlyphs">SLIP</text><rect x="802.5" y="812.3" width="11.9" height="2.4" fill="#91c6b1"/><text x="722.5" y="857.25" font-size="21" fill="#222222" stroke="#fff" stroke-width="0.25" text-anchor="start" textLength="141.29999999999998" lengthAdjust="spacingAndGlyphs">Sole that Reduce</text><text x="700.7" y="881.6" font-size="21" fill="#222222" stroke="#fff" stroke-width="0.25" text-anchor="start" textLength="162.6" lengthAdjust="spacingAndGlyphs">silps when walking.</text><text x="548.2" y="946.8" font-size="27.6" fill="#e9b572" stroke="#e9b572" stroke-width="0.6" text-anchor="start" textLength="149.29999999999998" lengthAdjust="spacingAndGlyphs">CONVENIENT</text><text x="548.2" y="979.9" font-size="21" fill="#222222" stroke="#fff" stroke-width="0.25" text-anchor="start" textLength="139.2" lengthAdjust="spacingAndGlyphs">Capable of being</text><text x="548.2" y="1005" font-size="21" fill="#222222" stroke="#fff" stroke-width="0.25" text-anchor="start" textLength="209.89999999999998" lengthAdjust="spacingAndGlyphs">washed without damage.</text><text x="305.6" y="910.9" font-size="27.6" fill="#e8926a" stroke="#e8926a" stroke-width="0.6" text-anchor="start" textLength="172.89999999999998" lengthAdjust="spacingAndGlyphs">COMFORTABLE</text><text x="306.0" y="944.2" font-size="21" fill="#222222" stroke="#fff" stroke-width="0.25" text-anchor="start" textLength="198.79999999999998" lengthAdjust="spacingAndGlyphs">It's soft, light and cotton</text><text x="306.0" y="968.2" font-size="21" fill="#222222" stroke="#fff" stroke-width="0.25" text-anchor="start" textLength="197.7" lengthAdjust="spacingAndGlyphs">Fast dryness for easy to</text><text x="306.0" y="993.4" font-size="21" fill="#222222" stroke="#fff" stroke-width="0.25" text-anchor="start" textLength="127.8" lengthAdjust="spacingAndGlyphs">use at any time</text><text x="104.39999999999999" y="985.9" font-size="27.6" fill="#d8707d" stroke="#d8707d" stroke-width="0.6" text-anchor="start" textLength="146.6" lengthAdjust="spacingAndGlyphs">BIG TOE BOX</text><text x="103.69999999999999" y="1019.6" font-size="21" fill="#222222" stroke="#fff" stroke-width="0.25" text-anchor="start" textLength="165.6" lengthAdjust="spacingAndGlyphs">Free toe movement</text><text x="103.69999999999999" y="1043.2" font-size="21" fill="#222222" stroke="#fff" stroke-width="0.25" text-anchor="start" textLength="166.79999999999998" lengthAdjust="spacingAndGlyphs">improves congnitive</text><text x="103.69999999999999" y="1068.4" font-size="21" fill="#222222" stroke="#fff" stroke-width="0.25" text-anchor="start" textLength="203.39999999999998" lengthAdjust="spacingAndGlyphs">and motor development.</text></g>
</svg>
</body></html>
